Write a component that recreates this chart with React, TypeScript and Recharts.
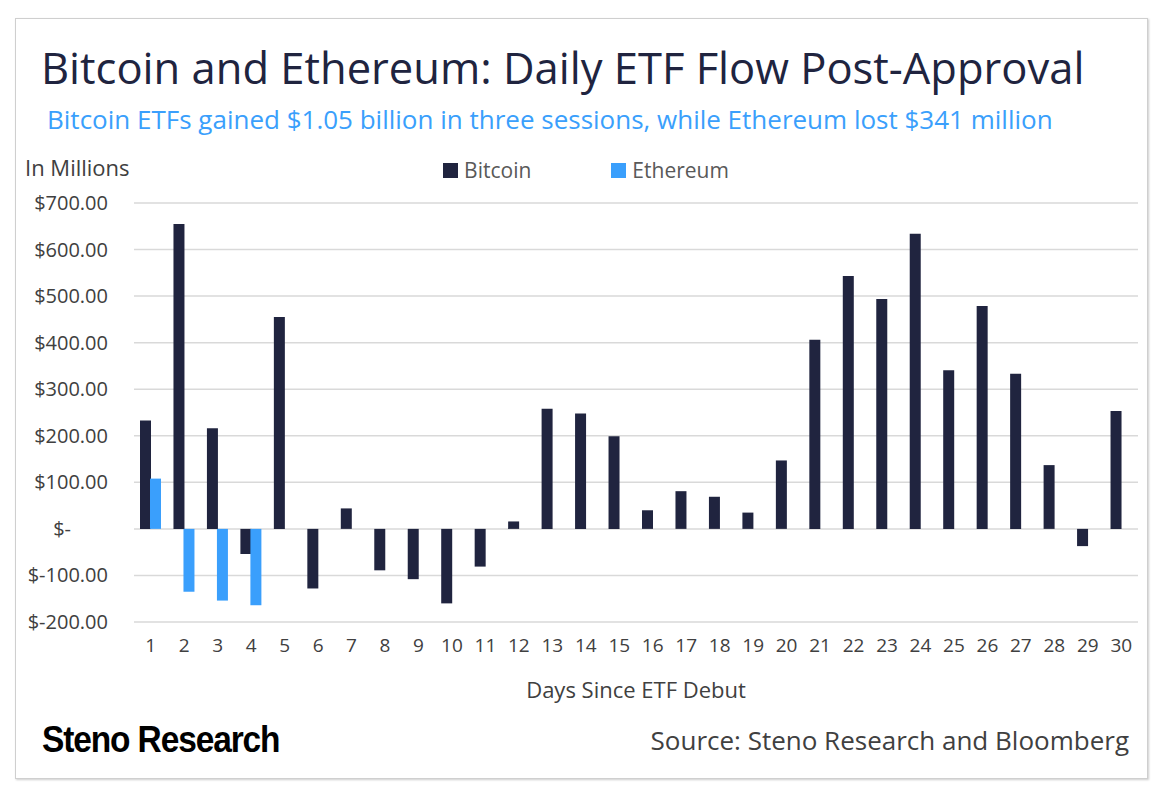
import React from "react";
import { BarChart, Bar, XAxis, YAxis, CartesianGrid } from "recharts";

const days = Array.from({ length: 30 }, (_, i) => String(i + 1));

const bitcoinFlows = [
  233, 655, 216, -54, 455, -128, 44, -89, -108, -160,
  -81, 16, 258, 248, 199, 40, 81, 69, 35, 147,
  406, 543, 494, 634, 341, 479, 333, 137, -37, 253,
];

const ethereumFlows: (number | null)[] = [
  108, -135, -154, -164, null, null, null, null, null, null,
  null, null, null, null, null, null, null, null, null, null,
  null, null, null, null, null, null, null, null, null, null,
];

const yTicks = [-200, -100, 0, 100, 200, 300, 400, 500, 600, 700];

const data = days.map((day, i) => ({
  day,
  bitcoin: bitcoinFlows[i],
  ethereum: ethereumFlows[i],
}));

const FONT = "'Open Sans', 'Noto Sans', sans-serif";
const NAVY = "#20243f";
const BLUE = "#3a9ffc";
const GREY_TEXT = "#404040";

const legendItems = [
  { name: "Bitcoin", color: NAVY },
  { name: "Ethereum", color: BLUE },
];

function YTick(props: any) {
  const { x, y, payload } = props;
  const v = payload.value as number;
  const label = v === 0 ? "$-" : `$${v.toFixed(2)}`;
  return (
    <text
      x={v === 0 ? 71 : x}
      y={y}
      dy="0.35em"
      textAnchor="end"
      fill={GREY_TEXT}
      fontSize={20}
      fontFamily={FONT}
    >
      {label}
    </text>
  );
}

export default function App() {
  return (
    <div style={{ position: "absolute", left: 0, top: 0, width: 1170, height: 803, background: "#fff", fontFamily: FONT }}>
      <div
        style={{
          position: "absolute",
          left: 15,
          top: 18,
          width: 1131,
          height: 759,
          border: "1px solid #cfcfcf",
          boxShadow: "1px 1px 2px rgba(0,0,0,0.2)",
        }}
      />
      <div style={{ position: "absolute", left: 41, top: 38, fontSize: 43.5, color: NAVY, whiteSpace: "nowrap", lineHeight: "60px" }}>
        Bitcoin and Ethereum: Daily ETF Flow Post-Approval
      </div>
      <div style={{ position: "absolute", left: 47, top: 101, fontSize: 26, color: BLUE, whiteSpace: "nowrap", lineHeight: "36px" }}>
        Bitcoin ETFs gained $1.05 billion in three sessions, while Ethereum lost $341 million
      </div>
      <div style={{ position: "absolute", left: 25, top: 152, fontSize: 22, color: GREY_TEXT, whiteSpace: "nowrap", lineHeight: "30px" }}>
        In Millions
      </div>

      <div style={{ position: "absolute", left: 0, top: 156, width: 1170, display: "flex", justifyContent: "center", gap: 80 }}>
        <div style={{ display: "flex", alignItems: "center", marginLeft: 2 }}>
          {legendItems.map((item, i) => (
            <div key={item.name} style={{ display: "flex", alignItems: "center", marginLeft: i === 0 ? 0 : 80 }}>
              <span style={{ width: 15, height: 15, background: item.color, display: "inline-block", marginRight: 6 }} />
              <span style={{ fontSize: 21, color: "#595959", lineHeight: "28px" }}>{item.name}</span>
            </div>
          ))}
        </div>
      </div>

      <div style={{ position: "absolute", left: 0, top: 0 }}>
        <BarChart
          width={1170}
          height={803}
          data={data}
          margin={{ top: 203, right: 32, bottom: 101, left: 34 }}
          barSize={11}
          barGap={-1}
        >
          <CartesianGrid vertical={false} stroke="#d9d9d9" strokeWidth={1.5} />
          <XAxis
            dataKey="day"
            height={80}
            axisLine={false}
            tickLine={false}
            tickSize={0}
            tickMargin={17}
            interval={0}
            tick={{ fill: GREY_TEXT, fontSize: 19, fontFamily: FONT }}
            label={{
              value: "Days Since ETF Debut",
              position: "insideBottom",
              offset: 4,
              fill: GREY_TEXT,
              fontSize: 22,
              fontFamily: FONT,
            }}
          />
          <YAxis
            width={100}
            domain={[-200, 700]}
            ticks={yTicks}
            axisLine={false}
            tickLine={false}
            tickSize={0}
            tickMargin={26}
            tick={<YTick />}
          />
          <Bar dataKey="bitcoin" name="Bitcoin" fill={NAVY} isAnimationActive={false} />
          <Bar dataKey="ethereum" name="Ethereum" fill={BLUE} isAnimationActive={false} />
        </BarChart>
      </div>

      <div
        style={{
          position: "absolute",
          left: 42,
          top: 717,
          fontSize: 36,
          fontWeight: 700,
          color: "#000",
          whiteSpace: "nowrap",
          lineHeight: "46px",
          fontFamily: "'Liberation Sans', sans-serif",
          letterSpacing: -1.2,
          transform: "scaleX(0.93)",
          transformOrigin: "left center",
        }}
      >
        Steno Research
      </div>
      <div
        style={{
          position: "absolute",
          right: 1170 - 1129,
          top: 722,
          fontSize: 26,
          color: GREY_TEXT,
          whiteSpace: "nowrap",
          lineHeight: "36px",
        }}
      >
        Source: Steno Research and Bloomberg
      </div>
    </div>
  );
}
